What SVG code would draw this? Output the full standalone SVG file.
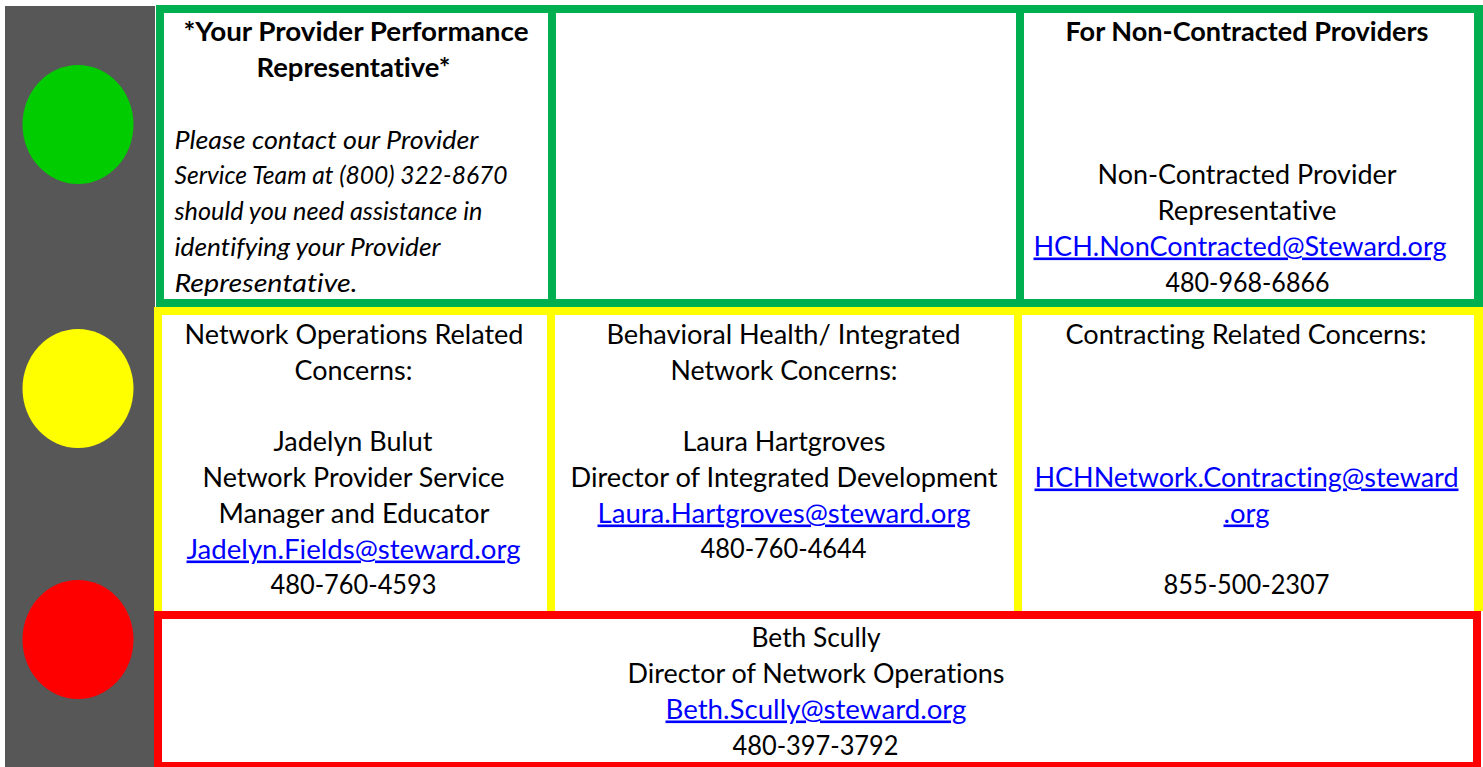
<svg xmlns="http://www.w3.org/2000/svg" width="1483" height="767" viewBox="0 0 1483 767">
<style>
text{font-family:Lato,"Liberation Sans",sans-serif;font-size:26px;fill:#000;font-variant-ligatures:none}
.b{font-weight:700}
.i{font-style:italic}
.l{fill:#0000ff;text-decoration:underline}
.w{fill:#fff}
.g{fill:#00b050}
.y{fill:#ffff00}
.r{fill:#ff0000}
</style>
<rect width="1483" height="767" fill="#fff"/>
<g id="signal">
<rect x="5" y="6" width="150" height="761" fill="#575757"/>
<ellipse id="light-green" cx="78" cy="124.500" rx="55.500" ry="59.500" fill="#00cc00"/>
<ellipse id="light-yellow" cx="78" cy="388.500" rx="55.500" ry="59.500" fill="#ffff00"/>
<ellipse id="light-red" cx="78" cy="639.500" rx="55.500" ry="59.500" fill="#ff0000"/>
</g>
<g id="row-green">
<rect class="g" x="156" y="5" width="1327" height="302"/>
<g id="provider-rep">
<rect class="w" x="164" y="13" width="384" height="286"/>
<text class="b" x="183.500" y="40.500" textLength="345" lengthAdjust="spacingAndGlyphs">*Your Provider Performance</text>
<text class="b" x="256.500" y="76.500" textLength="194" lengthAdjust="spacingAndGlyphs">Representative*</text>
<text class="i" x="174.500" y="148.500" textLength="304" lengthAdjust="spacingAndGlyphs">Please contact our Provider</text>
<text class="i" x="174.500" y="183.500" textLength="333" lengthAdjust="spacingAndGlyphs">Service Team at (800) 322-8670</text>
<text class="i" x="174.500" y="219.500" textLength="308" lengthAdjust="spacingAndGlyphs">should you need assistance in</text>
<text class="i" x="174.500" y="255.500" textLength="266" lengthAdjust="spacingAndGlyphs">identifying your Provider</text>
<text class="i" x="174.500" y="291.500" textLength="183" lengthAdjust="spacingAndGlyphs">Representative.</text>
</g>
<g id="empty-cell"><rect class="w" x="556" y="13" width="460" height="286"/></g>
<g id="non-contracted">
<rect class="w" x="1024" y="13" width="450" height="286"/>
<text class="b" x="1065.500" y="40.500" textLength="363" lengthAdjust="spacingAndGlyphs">For Non-Contracted Providers</text>
<text x="1097.500" y="183.500" textLength="299" lengthAdjust="spacingAndGlyphs">Non-Contracted Provider</text>
<text x="1157.500" y="219.500" textLength="179" lengthAdjust="spacingAndGlyphs">Representative</text>
<text class="l" x="1033.500" y="255.500" textLength="413" lengthAdjust="spacingAndGlyphs">HCH.NonContracted@Steward.org</text>
<text x="1165.500" y="291.500" textLength="164" lengthAdjust="spacingAndGlyphs">480-968-6866</text>
</g>
</g>
<g id="row-yellow">
<rect class="y" x="154" y="307" width="1329" height="304"/>
<g id="network-ops">
<rect class="w" x="162" y="315" width="385" height="296"/>
<text x="184.500" y="343.500" textLength="339" lengthAdjust="spacingAndGlyphs">Network Operations Related</text>
<text x="294.500" y="379.500" textLength="118" lengthAdjust="spacingAndGlyphs">Concerns:</text>
<text x="273.500" y="450.500" textLength="159" lengthAdjust="spacingAndGlyphs">Jadelyn Bulut</text>
<text x="202.500" y="486.500" textLength="302" lengthAdjust="spacingAndGlyphs">Network Provider Service</text>
<text x="218.500" y="522.500" textLength="271" lengthAdjust="spacingAndGlyphs">Manager and Educator</text>
<text class="l" x="186.500" y="558.500" textLength="334" lengthAdjust="spacingAndGlyphs">Jadelyn.Fields@steward.org</text>
<text x="270.500" y="593.500" textLength="166" lengthAdjust="spacingAndGlyphs">480-760-4593</text>
</g>
<g id="behavioral-health">
<rect class="w" x="555" y="315" width="459" height="296"/>
<text x="606.500" y="343.500" textLength="354" lengthAdjust="spacingAndGlyphs">Behavioral Health/ Integrated</text>
<text x="670.500" y="379.500" textLength="227" lengthAdjust="spacingAndGlyphs">Network Concerns:</text>
<text x="682.500" y="450.500" textLength="203" lengthAdjust="spacingAndGlyphs">Laura Hartgroves</text>
<text x="570.500" y="486.500" textLength="427" lengthAdjust="spacingAndGlyphs">Director of Integrated Development</text>
<text class="l" x="597.500" y="522.500" textLength="373" lengthAdjust="spacingAndGlyphs">Laura.Hartgroves@steward.org</text>
<text x="700.500" y="557.500" textLength="166" lengthAdjust="spacingAndGlyphs">480-760-4644</text>
</g>
<g id="contracting">
<rect class="w" x="1022" y="315" width="452" height="296"/>
<text x="1065.500" y="343.500" textLength="361" lengthAdjust="spacingAndGlyphs">Contracting Related Concerns:</text>
<text class="l" x="1034.500" y="486.500" textLength="424" lengthAdjust="spacingAndGlyphs">HCHNetwork.Contracting@steward</text>
<text class="l" x="1223.500" y="522.500" textLength="46" lengthAdjust="spacingAndGlyphs">.org</text>
<text x="1163.500" y="593.500" textLength="166" lengthAdjust="spacingAndGlyphs">855-500-2307</text>
</g>
</g>
<g id="row-red">
<rect class="r" x="154" y="611" width="1327" height="156"/>
<g id="director">
<rect class="w" x="162" y="619" width="1311" height="143"/>
<text x="751.500" y="646.500" textLength="129" lengthAdjust="spacingAndGlyphs">Beth Scully</text>
<text x="627.500" y="682.500" textLength="377" lengthAdjust="spacingAndGlyphs">Director of Network Operations</text>
<text class="l" x="665.500" y="718.500" textLength="301" lengthAdjust="spacingAndGlyphs">Beth.Scully@steward.org</text>
<text x="732.500" y="754.500" textLength="166" lengthAdjust="spacingAndGlyphs">480-397-3792</text>
</g>
</g>
</svg>
